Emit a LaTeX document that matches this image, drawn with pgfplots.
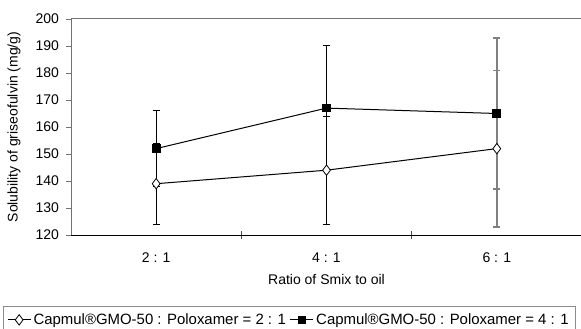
\documentclass[border=0pt]{standalone}
\usepackage{fontspec}
\setmainfont{Liberation Sans}
\usepackage{pgfplots}
\pgfplotsset{compat=1.18}
\usepackage{pgfplotstable}

\pgfplotstableread{
x y e
0.5 139 15
1.5 144 20
}\seriesAblack
\pgfplotstableread{
x y e
2.5 152 29
}\seriesAgray
\pgfplotstableread{
x y e
0.5 152 14
1.5 167 23
}\seriesBblack
\pgfplotstableread{
x y e
2.5 165 28
}\seriesBgray
\pgfplotstableread{
x y
0.5 139
1.5 144
2.5 152
}\seriesA
\pgfplotstableread{
x y
0.5 152
1.5 167
2.5 165
}\seriesB

\begin{document}
\begin{tikzpicture}
\clip (-53.25pt,-69.75pt) rectangle (382.5pt,176.25pt);
\begin{axis}[
  at={(0,0)}, anchor=south west,
  scale only axis, width=383.25pt, height=162pt,
  font=\fontsize{10.5}{12.6}\selectfont,
  /pgf/number format/assume math mode=true,
  xmin=0, xmax=3, ymin=120, ymax=200,
  axis x line=bottom, axis y line=left,
  x axis line style={black, line width=0.75pt, -},
  y axis line style={black!55, line width=0.75pt, -},
  xtick={0.5,1.5,2.5},
  xticklabels={2 : 1,4 : 1,6 : 1},
  major x tick style={draw=none},
  minor xtick={1,2},
  minor x tick style={black!70, line width=0.6pt},
  minor tick length=6pt,
  xtick align=center,
  ytick={120,130,...,200},
  y tick style={black!55, line width=0.6pt},
  ytick align=outside,
  major tick length=3.5pt,
  yticklabel style={anchor=east, xshift=-2pt},
  xticklabel style={anchor=center, yshift=-15.5pt},
  xlabel={Ratio of Smix to oil},
  ylabel={Solubility of griseofulvin (mg/g)},
  every axis x label/.style={at={(axis description cs:0.5,0)}, anchor=center, yshift=-33pt},
  every axis y label/.style={at={(axis description cs:0,0.5)}, anchor=center, rotate=90, yshift=42.75pt},
  clip=false,
  legend columns=2,
  legend style={at={(axis description cs:-0.1333,-0.327)}, anchor=north west,
    draw=black!45, line width=0.75pt, font=\fontsize{11.2}{13.4}\selectfont,
    inner xsep=3pt, inner ysep=3.5pt,
    /tikz/every even column/.append style={column sep=1pt}},
  legend image post style={line width=0.6pt},
]
% error bars (drawn first, below markers)
\addplot[forget plot, draw=none, mark=none,
  error bars/.cd, y dir=both, y explicit,
  error bar style={draw=black, line width=0.75pt},
  error mark options={draw=black, rotate=90, mark size=2.6pt, line width=0.75pt}]
  table[x=x, y=y, y error=e] {\seriesAblack};
\addplot[forget plot, draw=none, mark=none,
  error bars/.cd, y dir=both, y explicit,
  error bar style={draw=black, line width=0.75pt},
  error mark options={draw=black, rotate=90, mark size=2.6pt, line width=0.75pt}]
  table[x=x, y=y, y error=e] {\seriesBblack};
\addplot[forget plot, draw=none, mark=none,
  error bars/.cd, y dir=both, y explicit,
  error bar style={draw=black!50, line width=1.1pt},
  error mark options={draw=black!50, rotate=90, mark size=2.6pt, line width=1.1pt}]
  table[x=x, y=y, y error=e] {\seriesAgray};
\addplot[forget plot, draw=none, mark=none,
  error bars/.cd, y dir=both, y explicit,
  error bar style={draw=black!50, line width=1.1pt},
  error mark options={draw=black!50, rotate=90, mark size=2.6pt, line width=1.1pt}]
  table[x=x, y=y, y error=e] {\seriesBgray};
% series
\addplot[black, line width=0.75pt, mark=diamond*, mark size=3.9pt,
  mark options={fill=white, draw=black, line width=0.6pt}]
  table[x=x, y=y] {\seriesA};
\addlegendentry{Capmul®GMO-50 : Poloxamer = 2 : 1}
\addplot[black, line width=0.75pt, mark=square*, mark size=2.9pt,
  mark options={fill=black, draw=black}]
  table[x=x, y=y] {\seriesB};
\addlegendentry{Capmul®GMO-50 : Poloxamer = 4 : 1}
\draw[black!55, line width=0.75pt] (rel axis cs:0,1) -- (rel axis cs:1,1);
\end{axis}
\end{tikzpicture}
\end{document}
